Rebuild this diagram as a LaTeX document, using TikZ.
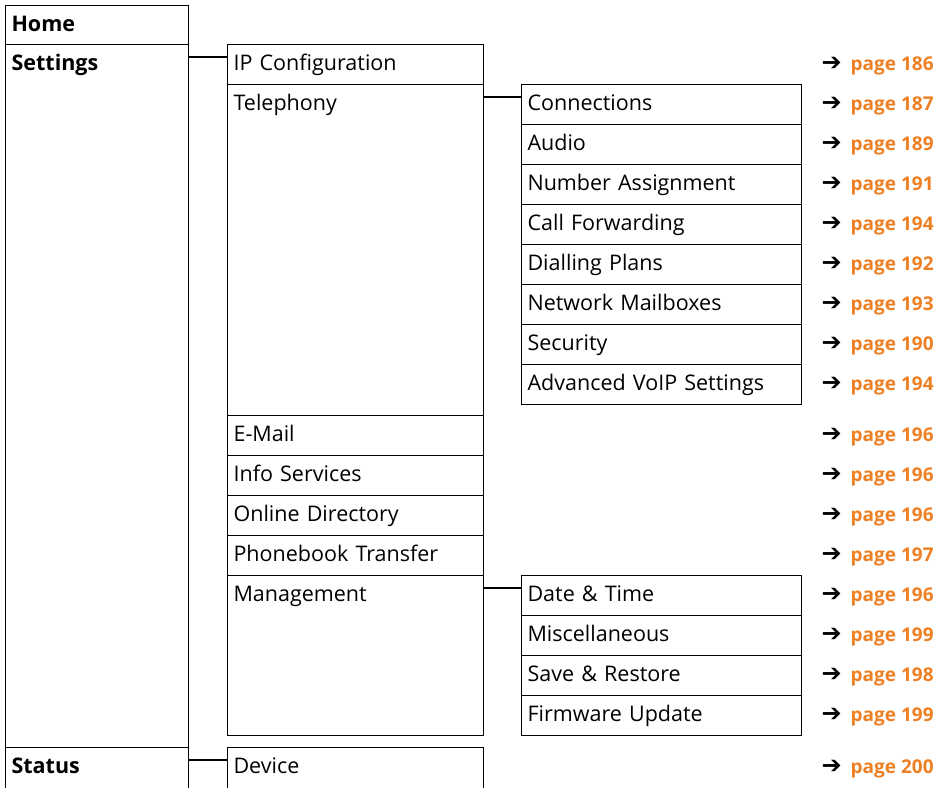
\documentclass[tikz,border=0pt]{standalone}
\usepackage{fontspec}
\setmainfont{Open Sans}
\newfontfamily\arrowfont{DejaVu Sans}
\definecolor{pageorange}{RGB}{238,127,35}
\begin{document}
\begin{tikzpicture}[x=1pt,y=-1pt,line width=1.1pt,
  box/.style={draw,anchor=north west,inner xsep=6pt,inner ysep=0pt,text height=26pt,text depth=#1,align=left,font=\fontsize{21.5}{24}\selectfont},
  box/.default=14pt,
  colA/.style={text width=171pt},
  colB/.style={text width=244pt},
  colC/.style={text width=268pt},
  ref/.style={anchor=base west,inner sep=0pt,font=\fontsize{19}{22}\selectfont\bfseries,text=pageorange}]
\useasboundingbox (0,0) rectangle (947,787);
% first column
\node[box=13pt,colA] (home) at (5,5) {\textbf{Home}};
\node[box=677pt,colA] (settings) at (5,44) {\textbf{Settings}};
\node[box=30pt,colA] (status) at (5,747) {\textbf{Status}};
% second column
\node[box,colB] (ip) at (227,44) {IP Configuration};
\node[box=305pt,colB] (tel) at (227,84) {Telephony};
\node[box,colB] (email) at (227,415) {E-Mail};
\node[box,colB] (info) at (227,455) {Info Services};
\node[box,colB] (online) at (227,495) {Online Directory};
\node[box,colB] (phonebook) at (227,535) {Phonebook Transfer};
\node[box=134pt,colB] (mgmt) at (227,575) {Management};
\node[box=30pt,colB] (device) at (227,747) {Device};
% third column
\node[box,colC] (conn) at (521,84) {Connections};
\node[box,colC] (audio) at (521,124) {Audio};
\node[box,colC] (numassign) at (521,164) {Number Assignment};
\node[box,colC] (callfwd) at (521,204) {Call Forwarding};
\node[box,colC] (dialplans) at (521,244) {Dialling Plans};
\node[box,colC] (mailboxes) at (521,284) {Network Mailboxes};
\node[box,colC] (security) at (521,324) {Security};
\node[box,colC] (advvoip) at (521,364) {Advanced VoIP Settings};
\node[box,colC] (datetime) at (521,575) {Date \& Time};
\node[box,colC] (misc) at (521,615) {Miscellaneous};
\node[box,colC] (saverestore) at (521,655) {Save \& Restore};
\node[box,colC] (firmware) at (521,695) {Firmware Update};
% connectors
\draw ([yshift=-13pt]settings.north east) -- ([yshift=-13pt]ip.north west);
\draw ([yshift=-13pt]tel.north east) -- ([yshift=-13pt]conn.north west);
\draw ([yshift=-13pt]mgmt.north east) -- ([yshift=-13pt]datetime.north west);
\draw ([yshift=-13pt]status.north east) -- ([yshift=-13pt]device.north west);
% page references
\coordinate (refcol) at (821,0);
\foreach \n/\p in {ip/186,conn/187,audio/189,numassign/191,callfwd/194,dialplans/192,
  mailboxes/193,security/190,advvoip/194,email/196,info/196,online/196,phonebook/197,
  datetime/196,misc/199,saverestore/198,firmware/199,device/200}
  \node[ref] (pg-\n) at (\n.base -| refcol) {\textcolor{black}{\arrowfont\fontsize{24}{24}\selectfont ➔}\hspace{9pt}page \p};
\end{tikzpicture}
\end{document}
